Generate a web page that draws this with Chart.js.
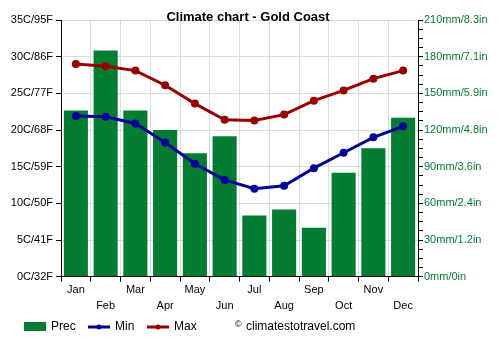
<!DOCTYPE html>
<html>
<head>
<meta charset="utf-8">
<script src="https://cdn.jsdelivr.net/npm/chart.js@4.4.0/dist/chart.umd.min.js"></script>
<style>
  body { margin: 0; background: #fff; }
  #wrap { width: 500px; height: 350px; }
</style>
</head>
<body>
<div id="wrap"><canvas id="climate-chart" width="500" height="350"></canvas></div>
<script>
const months = ["Jan", "Feb", "Mar", "Apr", "May", "Jun", "Jul", "Aug", "Sep", "Oct", "Nov", "Dec"];
const prec = [136, 185, 136, 120, 101, 115, 50, 55, 40, 85, 105, 130];
const tempMin = [21.9, 21.8, 20.9, 18.3, 15.4, 13.2, 12.0, 12.4, 14.8, 16.9, 19.0, 20.5];
const tempMax = [29.0, 28.7, 28.1, 26.1, 23.6, 21.4, 21.3, 22.1, 24.0, 25.4, 27.0, 28.1];
const tempTicks = ["0C/32F", "5C/41F", "10C/50F", "15C/59F", "20C/68F", "25C/77F", "30C/86F", "35C/95F"];
const precTicks = ["0mm/0in", "30mm/1.2in", "60mm/2.4in", "90mm/3.6in", "120mm/4.8in", "150mm/5.9in", "180mm/7.1in", "210mm/8.3in"];

const green = "#037d32";
const red = "#9b0000";
const blue = "#00009b";
const font = "Arial, 'Liberation Sans', sans-serif";

const ctxEl = document.getElementById("climate-chart");

// title + legend drawn by hand, like the original site does it
const extras = {
  id: "extras",
  afterDraw(chart) {
    const { ctx } = chart;
    ctx.save();
    ctx.fillStyle = "#000";
    ctx.font = "bold 13px " + font;
    ctx.textAlign = "center";
    ctx.textBaseline = "middle";
    ctx.fillText("Climate chart - Gold Coast", 248, 17);

    const y = 327;
    ctx.textAlign = "left";
    ctx.font = "12px " + font;
    ctx.fillStyle = green;
    ctx.fillRect(24, 322, 22, 9);
    ctx.fillStyle = "#000";
    ctx.fillText("Prec", 51, y);

    ctx.lineWidth = 3;
    ctx.strokeStyle = blue;
    ctx.beginPath(); ctx.moveTo(88, y); ctx.lineTo(110, y); ctx.stroke();
    ctx.fillStyle = blue;
    ctx.beginPath(); ctx.arc(99, y, 2.5, 0, Math.PI * 2); ctx.fill();
    ctx.fillStyle = "#000";
    ctx.fillText("Min", 115, y);

    ctx.strokeStyle = red;
    ctx.beginPath(); ctx.moveTo(147, y); ctx.lineTo(169, y); ctx.stroke();
    ctx.fillStyle = red;
    ctx.beginPath(); ctx.arc(158, y, 2.5, 0, Math.PI * 2); ctx.fill();
    ctx.fillStyle = "#000";
    ctx.fillText("Max", 174, y);

    ctx.font = "9px " + font;
    ctx.fillText("©", 235, y - 2);
    ctx.font = "12px " + font;
    ctx.fillText("climatestotravel.com", 246, y);
    ctx.restore();
  },
};

new Chart(ctxEl, {
  type: "bar",
  data: {
    labels: months.map((m, i) => (i % 2 ? ["", m] : [m])),
    datasets: [
      {
        type: "line",
        label: "Max",
        data: tempMax,
        yAxisID: "yT",
        borderColor: red,
        backgroundColor: red,
        borderWidth: 3,
        pointRadius: 4,
        pointBackgroundColor: red,
        pointBorderWidth: 0,
        order: 1,
      },
      {
        type: "line",
        label: "Min",
        data: tempMin,
        yAxisID: "yT",
        borderColor: blue,
        backgroundColor: blue,
        borderWidth: 3,
        pointRadius: 4,
        pointBackgroundColor: blue,
        pointBorderWidth: 0,
        order: 2,
      },
      {
        label: "Prec",
        data: prec,
        yAxisID: "yP",
        backgroundColor: green,
        borderWidth: 0,
        categoryPercentage: 0.81,
        barPercentage: 1,
        order: 3,
      },
    ],
  },
  options: {
    responsive: false,
    animation: false,
    layout: { padding: { top: 20, left: 0, right: 0, bottom: 0 } },
    plugins: {
      legend: { display: false },
      title: { display: false },
      tooltip: { enabled: false },
    },
    scales: {
      x: {
        afterFit(scale) { scale.height = 73.3; },
        grid: { color: "#dcdcdc", tickColor: "#000", tickLength: 5, offset: true },
        border: { color: "#000" },
        ticks: {
          color: "#000",
          font: { family: font, size: 11, lineHeight: 1.4 },
          padding: 1,
          maxRotation: 0,
          autoSkip: false,
        },
      },
      yT: {
        position: "left",
        min: 0,
        max: 35,
        afterFit(scale) { scale.width = 61; },
        grid: { color: "#dcdcdc", tickColor: "#000", tickLength: 5 },
        border: { color: "#000" },
        ticks: {
          stepSize: 5,
          color: "#000",
          padding: 3,
          font: { family: font, size: 11 },
          callback: (v) => tempTicks[v / 5],
        },
      },
      yP: {
        position: "right",
        min: 0,
        max: 210,
        afterFit(scale) { scale.width = 82; },
        grid: { drawOnChartArea: false, tickColor: "#000", tickLength: 5 },
        border: { color: "#000" },
        ticks: {
          stepSize: 7.5,
          autoSkip: false,
          color: green,
          padding: 1,
          font: { family: font, size: 11 },
          callback: (v) => (v % 30 === 0 ? precTicks[v / 30] : ""),
        },
      },
    },
  },
  plugins: [extras],
});
</script>
</body>
</html>
